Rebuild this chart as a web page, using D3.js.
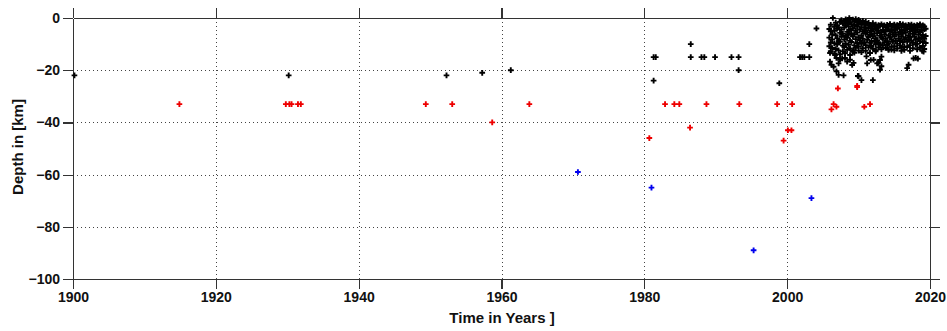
<!DOCTYPE html>
<html>
<head>
<meta charset="utf-8">
<script src="https://cdn.jsdelivr.net/npm/d3@7"></script>
<style>
  body { margin: 0; background: #fff; }
  svg text { font-family: "Liberation Sans", Arial, sans-serif; font-weight: bold; font-size: 14px; fill: #111; }
  .axis path, .axis line { stroke: #333; stroke-width: 1.2; shape-rendering: crispEdges; }
  .grid line { stroke: #444; stroke-dasharray: 1,3; shape-rendering: crispEdges; }
</style>
</head>
<body>
<div id="chart"></div>
<script>
// tick values
const xTicks = [1900, 1920, 1940, 1960, 1980, 2000, 2020];
const yTicks = [0, -20, -40, -60, -80, -100];

// scattered shallow events (black)
const blackYears = [1900.2, 1930.2, 1952.3, 1957.3, 1961.3, 1981.3, 1981.6, 1981.3, 1986.5, 1986.5,
  1988.0, 1988.4, 1989.9, 1992.2, 1993.2, 1993.2, 1998.9, 2001.8, 2002.1, 2002.4, 2003.1, 2003.1, 2004.1,
  2006.4, 2008.7];
const blackDepths = [-22, -22, -22, -21, -20, -15, -15, -24, -10, -15,
  -15, -15, -15, -15, -15, -20, -25, -15, -15, -15, -15, -10, -4,
  0, 0];

// deeper scatter below the recent cluster (black)
const scatterYears = [2006.0, 2006.5, 2007.2, 2007.9, 2007.2, 2007.7, 2008.4, 2009.1, 2009.9, 2010.4,
  2012.0, 2011.2, 2011.7, 2012.6, 2013.0, 2013.2, 2008.8, 2008.1, 2009.3, 2006.7, 2006.0, 2006.2,
  2006.9, 2007.4, 2008.1, 2008.8, 2009.3, 2006.9, 2010.0, 2011.1, 2011.6, 2012.1, 2012.4, 2012.8,
  2013.2, 2013.0, 2014.2, 2014.6, 2016.0, 2016.8, 2017.0, 2017.7, 2018.0, 2018.3, 2018.9, 2019.1];
const scatterDepths = [-16.7, -18.7, -21.8, -22.0, -17.4, -15.5, -16.7, -18.0, -22.2, -23.8,
  -23.8, -17.4, -16.1, -17.4, -16.1, -14.8, -14.2, -13.5, -12.3, -14.2, -13.4, -17.9,
  -15.3, -16.0, -15.3, -16.0, -17.2, -20.4, -22.3, -14.7, -13.4, -16.0, -12.8, -17.2,
  -18.5, -19.8, -12.1, -12.1, -12.6, -19.2, -17.9, -15.5, -15.3, -15.6, -12.6, -12.9];

// dense shallow band 2006-2019 (black), one column per year step
const bandYears = [2005.9, 2006.1, 2006.3, 2006.6, 2006.8, 2007.0, 2007.2, 2007.4, 2007.6, 2007.8,
  2008.0, 2008.2, 2008.4, 2008.6, 2008.8, 2009.0, 2009.2, 2009.4, 2009.6, 2009.8,
  2010.0, 2010.2, 2010.4, 2010.6, 2010.8, 2011.0, 2011.2, 2011.4, 2011.6, 2011.8,
  2012.0, 2012.2, 2012.4, 2012.6, 2012.8, 2013.0, 2013.2, 2013.4, 2013.6, 2013.8,
  2014.0, 2014.2, 2014.4, 2014.6, 2014.8, 2015.0, 2015.2, 2015.4, 2015.6, 2015.8,
  2016.0, 2016.2, 2016.4, 2016.6, 2016.8, 2017.0, 2017.2, 2017.4, 2017.6, 2017.8,
  2018.0, 2018.2, 2018.4, 2018.6, 2018.8, 2019.0, 2019.2, 2019.4];
const bandDepths = [
  [-4.2, -7.5, -10.8], [-2.6, -5.1, -9.4, -12.7], [-6.3, -8.2, -11.5], [-3.4, -4.9, -9.7, -13.6], [-1.8, -6.6, -11.9],
  [-2.9, -4.1, -7.8, -10.2], [-3.6, -8.9, -12.4], [-1.5, -5.7, -9.1, -13.9], [-0.8, -4.4, -7.2], [-2.2, -6.1, -10.6, -12.8],
  [-1.4, -3.7, -8.3, -11.1], [-0.5, -2.8, -6.9, -9.8], [-1.9, -5.3, -7.6, -12.2], [-0.9, -3.2, -6.4, -10.3], [-1.6, -4.6, -8.7, -11.7],
  [-2.4, -5.9, -9.2], [-0.6, -3.9, -7.1, -12.9], [-1.2, -2.7, -6.2, -10.5, -13.3], [-0.4, -4.8, -8.1, -11.4], [-1.7, -3.3, -5.6, -9.6],
  [-0.7, -2.5, -7.4, -10.9, -12.5], [-1.3, -4.3, -8.6], [-2.1, -3.5, -6.7, -9.9, -13.1], [-1.1, -5.2, -7.9, -11.6], [-2.6, -4.7, -9.3],
  [-1.5, -3.8, -6.1, -10.4, -12.6], [-2.3, -5.5, -8.4], [-1.9, -4.0, -7.3, -11.2], [-2.8, -6.5, -9.5, -13.4], [-3.1, -5.0, -8.8, -10.7],
  [-2.0, -4.5, -7.0, -11.8], [-3.3, -6.0, -9.0], [-2.5, -4.2, -7.7, -10.1, -12.3], [-3.6, -5.8, -8.5], [-2.7, -4.9, -9.6, -11.3],
  [-3.0, -6.8, -10.0], [-2.4, -5.4, -7.5, -12.0], [-3.2, -4.6, -8.0, -10.6], [-2.8, -6.3, -9.4], [-3.5, -5.1, -7.8, -11.5],
  [-2.6, -4.4, -8.9, -10.3], [-3.1, -6.6, -9.7, -12.1], [-2.3, -5.0, -7.4], [-3.4, -4.8, -8.2, -11.0], [-2.9, -6.2, -9.1],
  [-2.5, -4.3, -7.0, -10.8, -12.4], [-3.3, -5.7, -8.6], [-2.7, -4.1, -9.8, -11.7], [-3.0, -6.4, -7.9], [-2.2, -5.3, -8.8, -10.5],
  [-3.6, -4.7, -7.2, -11.4], [-2.4, -6.0, -9.3], [-3.2, -4.5, -8.1, -10.9, -12.2], [-2.8, -5.6, -7.6], [-3.4, -4.2, -9.0, -11.1],
  [-2.6, -6.7, -8.3], [-3.1, -5.2, -7.3, -10.4, -12.6], [-2.5, -4.0, -8.7], [-3.5, -6.1, -9.5, -11.6], [-2.9, -4.6, -7.1],
  [-3.3, -5.5, -8.4, -10.2], [-2.7, -4.4, -9.9, -12.0], [-3.0, -6.3, -7.7], [-2.4, -5.1, -8.9, -11.3], [-3.6, -4.8, -7.4],
  [-2.8, -6.5, -9.2, -10.7], [-3.2, -4.3, -8.0, -11.9], [-4.1, -6.9, -9.6]
];

// events at ~33 km and deeper (red)
const redYears = [1914.9, 1929.8, 1930.3, 1930.6, 1931.5, 1931.9, 1949.4, 1953.1, 1958.7, 1963.9,
  1980.7, 1982.9, 1984.2, 1984.9, 1986.4, 1988.7, 1993.3, 1998.6, 1999.5, 2000.1, 2000.6, 2000.7,
  2006.2, 2006.5, 2006.9, 2007.1, 2009.8, 2009.8, 2010.8, 2011.6];
const redDepths = [-33, -33, -33, -33, -33, -33, -33, -33, -40, -33,
  -46, -33, -33, -33, -42, -33, -33, -33, -47, -43, -43, -33,
  -35, -33, -34, -27, -26.5, -26, -34, -33];

// deep events (blue)
const blueYears = [1970.7, 1981.0, 1995.3, 2003.4];
const blueDepths = [-59, -65, -89, -69];

const W = 947, H = 331;
const margin = { top: 18, right: 17, bottom: 52, left: 73 };
const width = W - margin.left - margin.right;
const height = H - margin.top - margin.bottom;

const svg = d3.select('#chart').append('svg')
  .attr('width', W).attr('height', H);
const g = svg.append('g')
  .attr('transform', `translate(${margin.left},${margin.top})`);

const x = d3.scaleLinear().domain([1900, 2020]).range([0, width]);
const y = d3.scaleLinear().domain([-100, 0]).range([height, 0]);

// dotted grid
g.append('g').attr('class', 'grid')
  .selectAll('line.h').data(yTicks.slice(1, -1)).join('line')
  .attr('x1', 0).attr('x2', width)
  .attr('y1', d => Math.round(y(d)) + 0.5).attr('y2', d => Math.round(y(d)) + 0.5);
g.select('.grid')
  .selectAll('line.v').data(xTicks.slice(1, -1)).join('line')
  .attr('class', 'v')
  .attr('y1', 0).attr('y2', height)
  .attr('x1', d => Math.round(x(d)) + 0.5).attr('x2', d => Math.round(x(d)) + 0.5);

// axes on all four sides, ticks outward
g.append('g').attr('class', 'axis')
  .attr('transform', `translate(0,${height})`)
  .call(d3.axisBottom(x).tickValues(xTicks).tickSize(10).tickSizeOuter(0).tickPadding(3).tickFormat(d3.format('d')));
g.append('g').attr('class', 'axis')
  .call(d3.axisTop(x).tickValues(xTicks).tickSize(10).tickSizeOuter(0).tickFormat(''));
g.append('g').attr('class', 'axis')
  .call(d3.axisLeft(y).tickValues(yTicks).tickSize(10).tickSizeOuter(0).tickPadding(3));
g.append('g').attr('class', 'axis')
  .attr('transform', `translate(${width},0)`)
  .call(d3.axisRight(y).tickValues(yTicks).tickSize(10).tickSizeOuter(0).tickFormat(''));
g.selectAll('.axis text').style('font-size', '14px').attr('fill', '#111');
g.selectAll('.axis').attr('font-family', null).attr('font-size', null);

// axis titles
svg.append('text')
  .attr('x', 502).attr('y', 323)
  .attr('text-anchor', 'middle')
  .style('font-size', '15px')
  .text('Time in Years ]');
svg.append('text')
  .attr('transform', 'translate(23,147) rotate(-90)')
  .attr('text-anchor', 'middle')
  .style('font-size', '15px')
  .text('Depth in [km]');

// markers
const marker = d3.symbol().type(d3.symbolCross).size(18);
function plot(years, depths, color) {
  g.append('g').selectAll('path')
    .data(years.map((yr, i) => [yr, depths[i]]))
    .join('path')
    .attr('d', marker)
    .attr('transform', d => `translate(${x(d[0])},${y(d[1])})`)
    .attr('fill', color);
}

const bandPts = [];
bandYears.forEach((yr, i) => bandDepths[i].forEach(dp => bandPts.push([yr, dp])));

plot(bandPts.map(d => d[0]), bandPts.map(d => d[1]), '#000');
plot(scatterYears, scatterDepths, '#000');
plot(blackYears, blackDepths, '#000');
plot(redYears, redDepths, '#ee0000');
plot(blueYears, blueDepths, '#0000ee');
</script>
</body>
</html>
